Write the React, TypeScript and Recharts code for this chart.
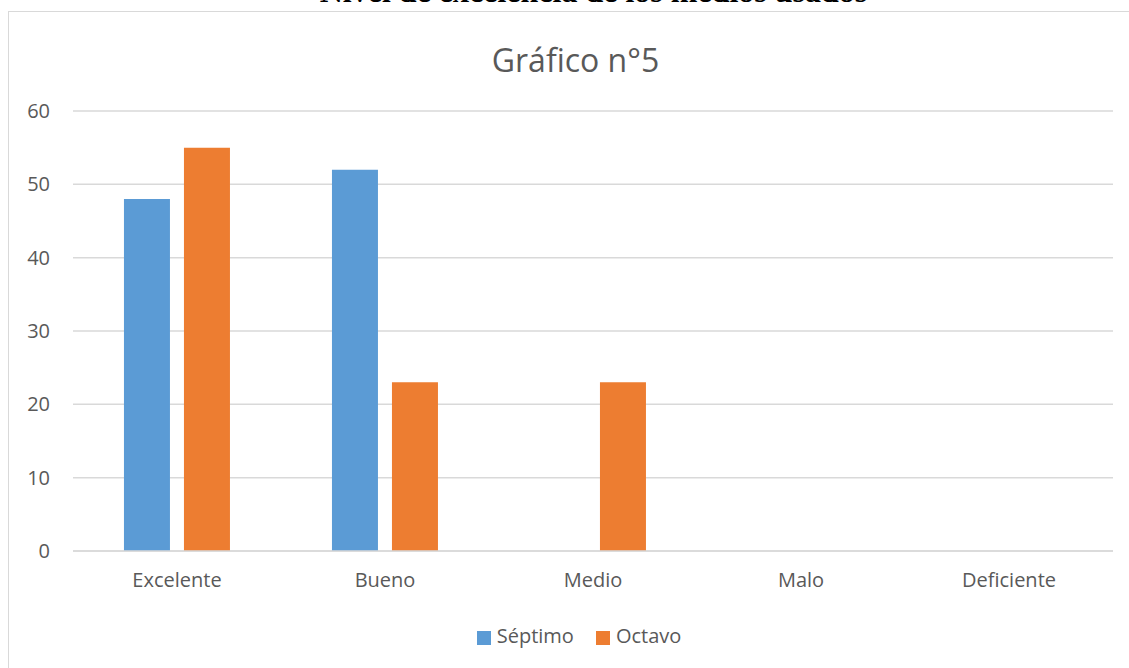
import { BarChart, Bar, XAxis, YAxis, CartesianGrid, Legend } from "recharts";

const CATEGORIES = ["Excelente", "Bueno", "Medio", "Malo", "Deficiente"];
const SEPTIMO = [48, 52, 0, 0, 0];
const OCTAVO = [55, 23, 23, 0, 0];
const Y_TICKS = [0, 10, 20, 30, 40, 50, 60];
const SERIES_ORDER = ["Séptimo", "Octavo"];

const data = CATEGORIES.map((name, i) => ({
  name,
  "Séptimo": SEPTIMO[i],
  Octavo: OCTAVO[i],
}));

const FONT = "'Open Sans', 'Noto Sans', sans-serif";
const GREY = "#595959";

export default function App() {
  return (
    <div style={{ position: "absolute", left: 0, top: 0, width: 1129, height: 668, overflow: "hidden", background: "#fff" }}>
      <div
        style={{
          position: "absolute",
          left: 0,
          width: 1129,
          top: -25,
          textAlign: "center",
          paddingLeft: 58,
          boxSizing: "border-box",
          whiteSpace: "nowrap",
          fontFamily: "'Liberation Serif', 'Times New Roman', serif",
          fontWeight: "bold",
          fontSize: 32,
          lineHeight: "32px",
          color: "#000",
        }}
      >
        Nivel de excelencia de los medios usados
      </div>
      <div
        style={{
          position: "absolute",
          left: 8,
          top: 11,
          width: 1140,
          height: 680,
          border: "1.5px solid #d9d9d9",
          boxSizing: "border-box",
        }}
      />
      <div
        style={{
          position: "absolute",
          left: 0,
          width: 1129,
          top: 38,
          textAlign: "center",
          paddingLeft: 22,
          boxSizing: "border-box",
          fontFamily: FONT,
          fontSize: 32,
          lineHeight: "44px",
          color: GREY,
        }}
      >
        Gráfico n°5
      </div>
      <div style={{ position: "absolute", left: 0, top: 0 }}>
        <BarChart
          width={1129}
          height={668}
          data={data}
          margin={{ top: 111, right: 16, left: 13, bottom: 53 }}
          barCategoryGap="24.5%"
          barGap={14}
        >
          <CartesianGrid vertical={false} stroke="#d9d9d9" strokeWidth={1.5} />
          <XAxis
            dataKey="name"
            axisLine={{ stroke: "#d9d9d9", strokeWidth: 1.5 }}
            tickLine={false}
            height={40}
            tick={{ fill: GREY, fontSize: 20, fontFamily: FONT }}
            tickMargin={16}
          />
          <YAxis
            domain={[0, 60]}
            ticks={Y_TICKS}
            axisLine={false}
            tickLine={false}
            width={60}
            tick={{ fill: GREY, fontSize: 20, fontFamily: FONT }}
            tickMargin={17}
          />
          <Legend
            verticalAlign="bottom"
            iconType="square"
            iconSize={14}
            itemSorter={(item: any) => SERIES_ORDER.indexOf(item.value)}
            wrapperStyle={{ top: 624, left: 34, height: 24, lineHeight: "24px", fontFamily: FONT, fontSize: 20 }}
            formatter={(v) => (
              <span style={{ color: GREY, marginLeft: 2, marginRight: v === "Séptimo" ? 12 : 0 }}>{v}</span>
            )}
          />
          <Bar dataKey="Séptimo" fill="#5b9bd5" isAnimationActive={false} />
          <Bar dataKey="Octavo" fill="#ed7d31" isAnimationActive={false} />
        </BarChart>
      </div>
    </div>
  );
}
